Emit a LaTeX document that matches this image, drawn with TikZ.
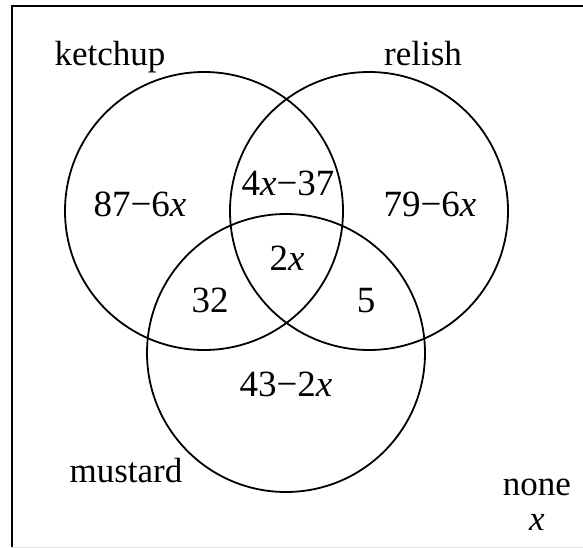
\documentclass[tikz,border=0pt]{standalone}
\usepackage{fontspec}
\setmainfont{Liberation Serif}
\usetikzlibrary{positioning}

\begin{document}
\begin{tikzpicture}[x=1pt, y=-1pt,
  set/.style={draw, circle, line width=1.8pt, minimum size=278pt, inner sep=0pt},
  label/.style={anchor=base, inner sep=0pt, font=\fontsize{35}{40}\selectfont},
  value/.style={label, font=\fontsize{37}{42}\selectfont},
  frame/.style={line width=2pt}
]
\useasboundingbox (0,0) rectangle (583,548);

% frame (cut off at right and bottom)
\draw[frame] (600,6) -- (12,6) -- (12,547);
\draw[gray!25, line width=0.6pt] (12,547) -- (583,547);

% the three sets
\node[set] (ketchup) at (204,211) {};
\node[set] (relish) at (369,211) {};
\node[set] (mustard) at (286,353) {};

% set names
\node[label] (ketchupname) at (110,66) {ketchup};
\node[label] (relishname) at (423,66) {relish};
\node[label] (mustardname) at (126,482) {mustard};
\node[label] (nonename) at (537,495) {none};
\node[label] (noneval) at (537,530) {\textit{x}};

% region values
\node[value] (konly) at (140,216) {87−6\textit{x}};
\node[value] (kr) at (288,196) {4\textit{x}−37};
\node[value] (ronly) at (430,216) {79−6\textit{x}};
\node[value] (krm) at (287,270) {2\textit{x}};
\node[value] (km) at (210,312) {32};
\node[value] (rm) at (366,312) {5};
\node[value] (monly) at (286,396) {43−2\textit{x}};

\end{tikzpicture}
\end{document}
